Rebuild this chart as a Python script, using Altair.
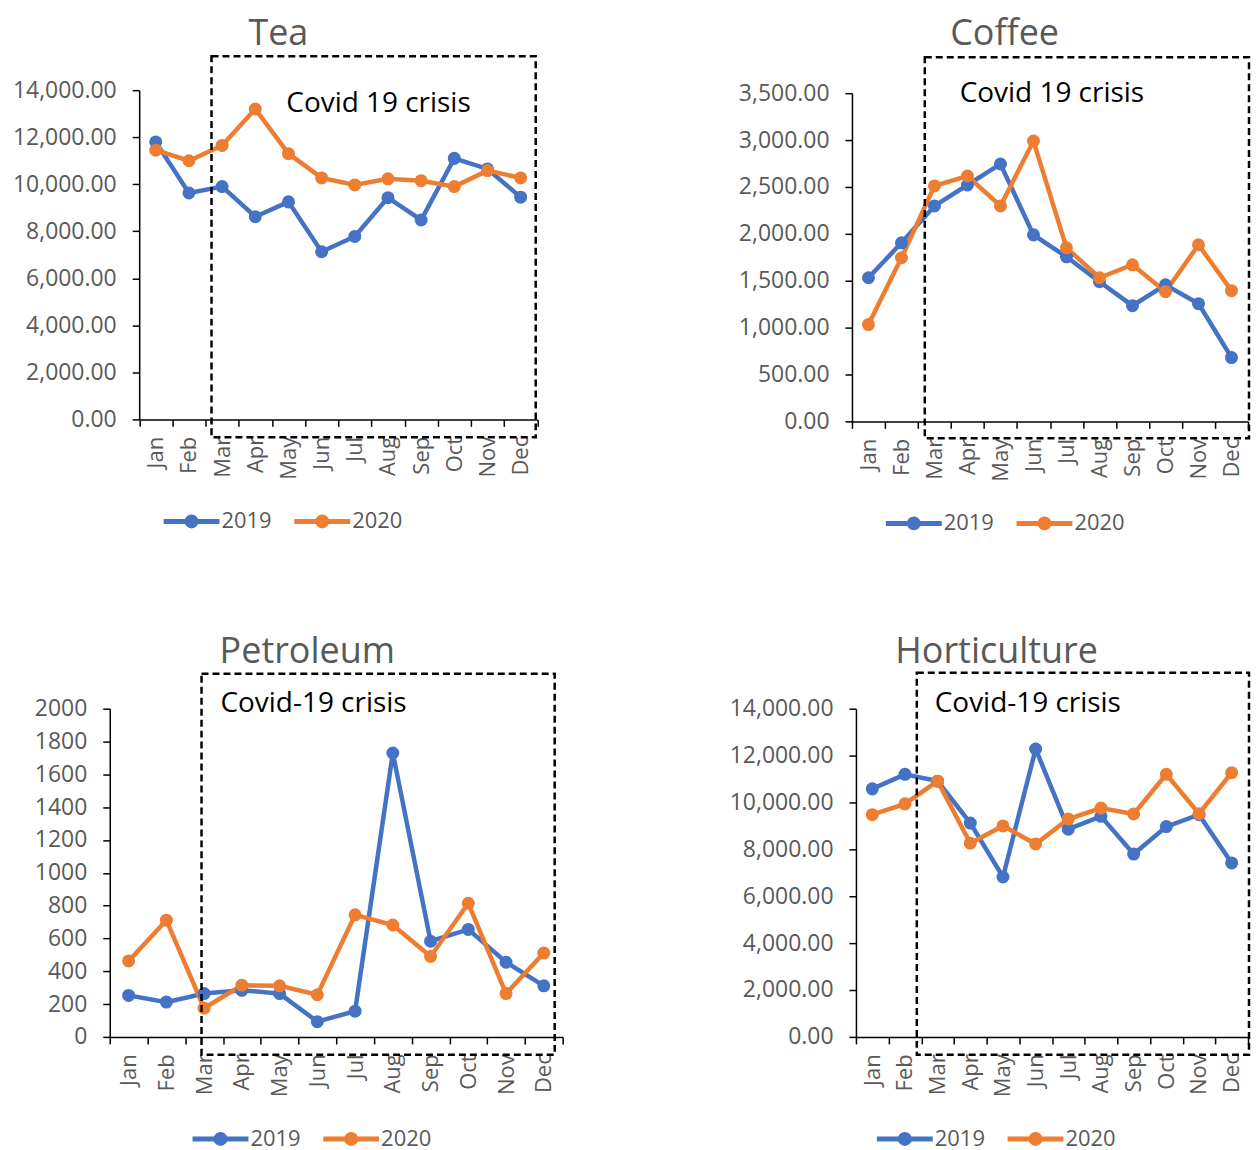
import altair as alt
import pandas as pd

months = ["Jan", "Feb", "Mar", "Apr", "May", "Jun", "Jul", "Aug", "Sep", "Oct", "Nov", "Dec"]
years = ["2019", "2020"]
colors = ["#4472C4", "#ED7D31"]

tea_2019 = [11800, 9630, 9900, 8620, 9250, 7130, 7780, 9430, 8480, 11100, 10650, 9450]
tea_2020 = [11450, 11000, 11650, 13200, 11300, 10270, 9970, 10230, 10150, 9900, 10580, 10270]
coffee_2019 = [1532, 1904, 2298, 2521, 2745, 1989, 1755, 1489, 1234, 1457, 1255, 681]
coffee_2020 = [1032, 1745, 2511, 2617, 2298, 2989, 1851, 1532, 1670, 1383, 1883, 1394]
petroleum_2019 = [253, 212, 264, 284, 264, 93, 157, 1730, 583, 655, 455, 311]
petroleum_2020 = [463, 711, 175, 315, 311, 257, 744, 682, 490, 814, 264, 511]
hort_2019 = [10580, 11200, 10910, 9120, 6820, 12280, 8860, 9410, 7800, 8970, 9480, 7420]
hort_2020 = [9480, 9940, 10910, 8260, 9000, 8230, 9290, 9760, 9510, 11200, 9520, 11270]

FONT = "Open Sans"
GREY = "#595959"
# legend symbol: a line with a dot in the middle (drawn with stroke)
LEG_PATH = ("M-4,0H4"
            "M0.643,0A0.643,0.643 0 1 1 -0.643,0A0.643,0.643 0 1 1 0.643,0"
            "M0.286,0A0.286,0.286 0 1 1 -0.286,0A0.286,0.286 0 1 1 0.286,0")


def panel(title, v19, v20, ymax, ystep, yfmt, w, h, xr, yr, yoff, box, note, note_xy,
          title_xy, leg_xy, left_ext):
    df = pd.DataFrame({
        "Month": months * 2,
        "Year": [years[0]] * 12 + [years[1]] * 12,
        "Value": v19 + v20,
    })
    x = alt.X("Month:N", sort=months,
              scale=alt.Scale(type="band", paddingInner=0, paddingOuter=0, range=xr),
              axis=alt.Axis(title=None, labelAngle=270, tickBand="extent",
                            labelPadding=10, tickSize=7, labelFontSize=22))
    y = alt.Y("Value:Q", scale=alt.Scale(domain=[0, ymax], nice=False, zero=True, range=yr),
              axis=alt.Axis(title=None, values=list(range(0, ymax + 1, ystep)),
                            format=yfmt, grid=False, tickSize=7, labelPadding=16,
                            offset=yoff, labelFontSize=23))
    color = alt.Color("Year:N", scale=alt.Scale(domain=years, range=colors),
                      legend=alt.Legend(title=None, orient="none", direction="horizontal",
                                        legendX=leg_xy[0], legendY=leg_xy[1],
                                        symbolType=LEG_PATH, symbolSize=196,
                                        symbolStrokeWidth=5, labelFontSize=22,
                                        labelFont=FONT, labelColor=GREY,
                                        labelOffset=19, columnPadding=12, padding=0))
    base = alt.Chart(df).encode(x=x, y=y, color=color)
    line = base.mark_line(strokeWidth=4.5)
    pts = base.mark_point(filled=True, size=170, opacity=1)

    nd = pd.DataFrame({"note": [note], "title": [title]})
    rect = alt.Chart(nd).mark_rect(fillOpacity=0, stroke="black", strokeWidth=2.5,
                                   strokeDash=[7, 4]).encode(
        x=alt.value(box[0]), x2=alt.value(box[1]),
        y=alt.value(box[2]), y2=alt.value(box[3]))
    txt = alt.Chart(nd).mark_text(align="left", baseline="middle", fontSize=28,
                                  font=FONT, color="black").encode(
        x=alt.value(note_xy[0]), y=alt.value(note_xy[1]), text="note:N")
    ttl = alt.Chart(nd).mark_text(align="center", baseline="middle", fontSize=36,
                                  font=FONT, color=GREY).encode(
        x=alt.value(title_xy[0]), y=alt.value(title_xy[1]), text="title:N")
    spacer = alt.Chart(nd).mark_rule(strokeOpacity=0).encode(
        x=alt.value(left_ext), x2=alt.value(left_ext + 1), y=alt.value(0))
    return alt.layer(line, pts, rect, txt, ttl, spacer).properties(width=w, height=h)


tea = panel("Tea", tea_2019, tea_2020, 14000, 2000, ",.2f", 429, 330,
            [29.5, 428.5], [330, 0], -29.5,
            [102, 427, -34, 348], "Covid 19 crisis", (177, 14), (169, -56),
            (71, 421), -102)
coffee = panel("Coffee", coffee_2019, coffee_2020, 3500, 500, ",.2f", 397, 332,
               [0, 397], [332, 3], 0,
               [73, 398, -33, 349], "Covid 19 crisis", (108, 4), (153, -56),
               (51, 423), -100)
petro = panel("Petroleum", petroleum_2019, petroleum_2020, 2000, 200, "d", 454, 329,
              [0, 454], [329, 0], 0,
              [92, 446, -35, 347], "Covid-19 crisis", (111, -5), (198, -57),
              (100, 420), -102)
hort = panel("Horticulture", hort_2019, hort_2020, 14000, 2000, ",.2f", 397, 329,
             [4, 397], [329, 0], -4,
             [65, 398, -36, 347], "Covid-19 crisis", (83, -5), (145, -57),
             (42, 420), -100)

chart = alt.concat(tea, coffee, petro, hort, columns=2,
                   spacing={"row": 96, "column": 165}).properties(
    padding={"left": 0, "top": 7, "right": 0, "bottom": 0}
).configure_axis(
    domainColor="black", domainWidth=1.5, tickColor="black", tickWidth=1.5,
    labelColor=GREY, labelFont=FONT
).configure_view(stroke=None).resolve_scale(color="independent", x="independent",
                                           y="independent")

chart.save("out.html", embed_options={"renderer": "svg", "actions": False})
